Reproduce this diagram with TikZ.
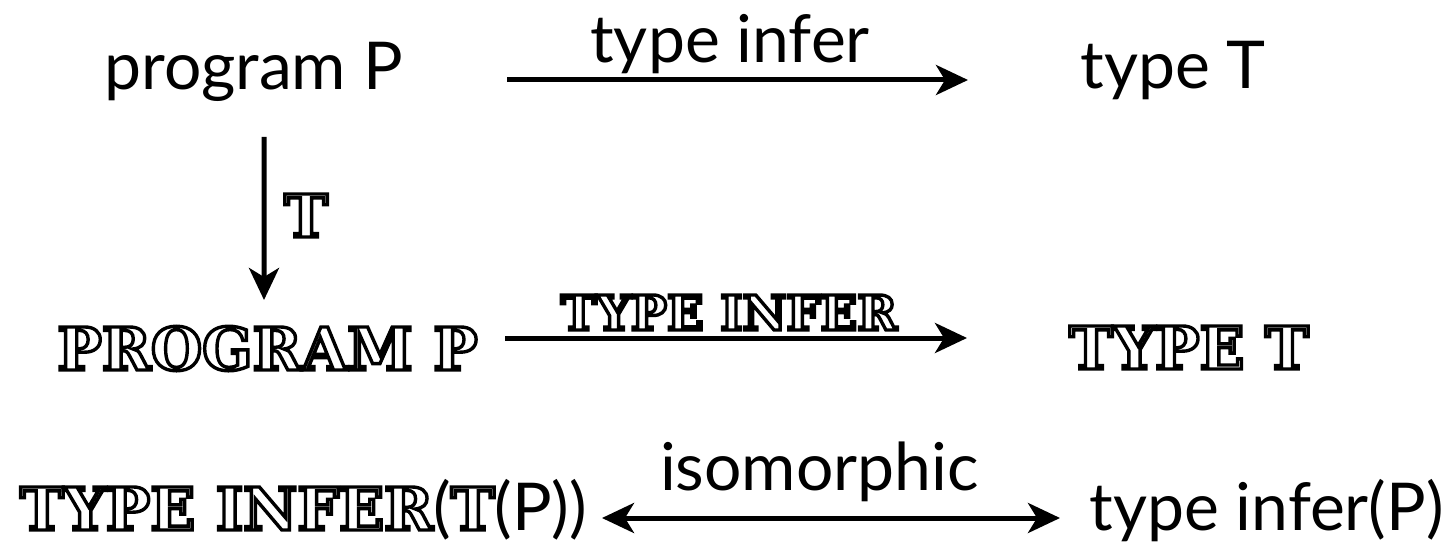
\documentclass[tikz,border=0pt]{standalone}
\usepackage{fontspec}
\setmainfont{Lato}
\newfontfamily\outfont{DejaVu Serif Bold}
\usetikzlibrary{arrows.meta}
\newcommand{\outl}[1]{\special{pdf:literal 1 g 0 G 2 Tr 3.4 w 0 j}#1\special{pdf:literal 0 g 0 G 0 Tr 0.39848 w}}
\newcommand{\mainsz}{\fontsize{66bp}{70bp}\selectfont}
\newcommand{\bigsz}{\outfont\fontsize{59bp}{62bp}\selectfont}
\newcommand{\smallsz}{\outfont\fontsize{48bp}{52bp}\selectfont}
\tikzset{
  maintxt/.style={inner sep=0pt, anchor=base, font=\mainsz},
  bigout/.style={inner sep=0pt, anchor=base, font=\bigsz},
  smallout/.style={inner sep=0pt, anchor=base, font=\smallsz},
  arr/.style={line width=5bp, -{Stealth[length=32bp,width=30bp,inset=9bp]}},
  darr/.style={line width=5bp, {Stealth[length=32bp,width=30bp,inset=9bp]}-{Stealth[length=32bp,width=30bp,inset=9bp]}}
}
\begin{document}
\begin{tikzpicture}[x=1bp,y=-1bp]
\useasboundingbox (0,0) rectangle (1453,547);
\node[maintxt] (progP) at (253.5,90) {program P};
\node[maintxt] (typeT) at (1173,89) {type T};
\node[bigout] (progP2) at (267.5,370) {\outl{PROGRAM P}};
\node[bigout] (typeT2) at (1189,369) {\outl{TYPE T}};
\node[inner sep=0pt, anchor=base] (inferTP) at (303.5,530)
  {{\bigsz\outl{TYPE INFER}}{\mainsz(}{\bigsz\outl{T}}{\mainsz(P))}};
\node[maintxt] (inferP) at (1266.5,530) {type infer(P)};

\draw[arr] ([shift={(253.5,-10)}]progP.base) --
  node[maintxt, xshift=-7.5bp, yshift=17bp] (lab1) {type infer}
  ([shift={(-205,-9)}]typeT.base);
\draw[arr] ([shift={(10.5,47)}]progP.base) --
  node[bigout, xshift=42bp, yshift=-18.5bp] (labT) {\outl{T}}
  ([shift={(-3.5,-70)}]progP2.base);
\draw[arr] ([shift={(237.5,-32)}]progP2.base) --
  node[smallout, xshift=-7bp, yshift=8bp] (lab2) {\outl{TYPE INFER}}
  ([shift={(-222,-31)}]typeT2.base);
\draw[darr] ([shift={(298.5,-12)}]inferTP.base) --
  node[maintxt, xshift=-11.5bp, yshift=28bp] (lab3) {isomorphic}
  ([shift={(-206.5,-12)}]inferP.base);
\end{tikzpicture}
\end{document}
